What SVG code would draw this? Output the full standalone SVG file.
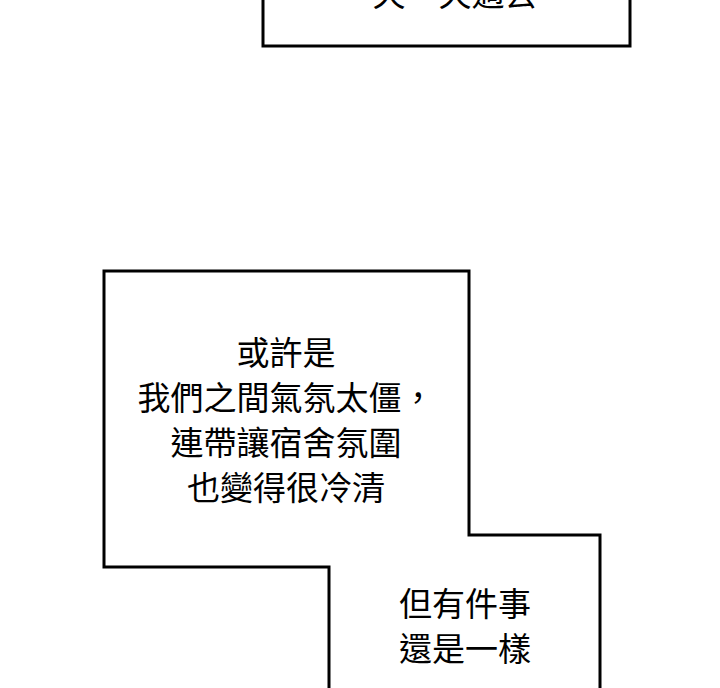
<svg xmlns="http://www.w3.org/2000/svg" width="720" height="688" viewBox="0 0 720 688"><style>.b{fill:#fff;stroke:#000;stroke-width:3}.t{font-family:"Noto Sans CJK TC",sans-serif;font-size:33px;fill:#000;text-anchor:middle}</style><rect width="720" height="688" fill="#fff"/><g id="box1"><rect class="b" x="263" y="-10" width="367" height="56"/><text class="t" x="455" y="6">天一天過去</text></g><g id="box2"><path class="b" d="M104,271H469V535H600V700H329V567H104Z"/><text class="t" x="286" y="365">或許是</text><text class="t" x="286" y="410">我們之間氣氛太僵，</text><text class="t" x="286" y="455">連帶讓宿舍氛圍</text><text class="t" x="286" y="500">也變得很冷清</text><text class="t" x="465" y="616">但有件事</text><text class="t" x="465" y="661">還是一樣</text></g></svg>
